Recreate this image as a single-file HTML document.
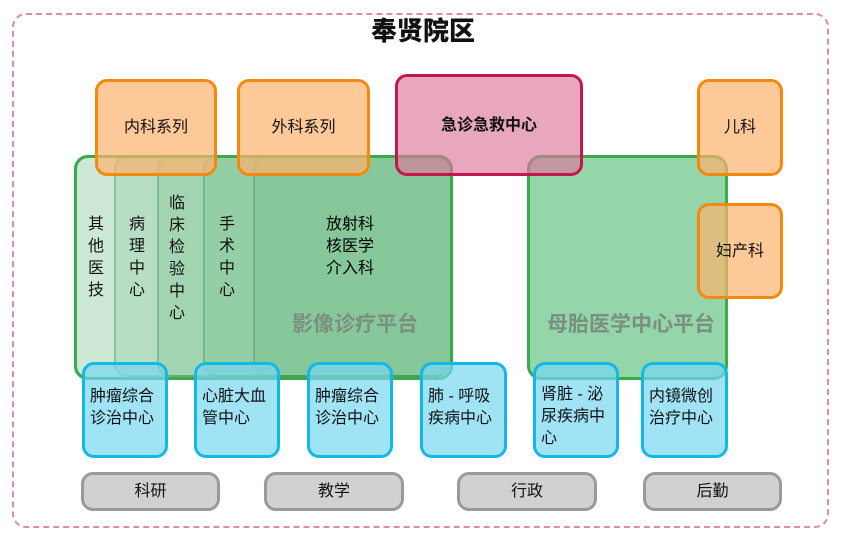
<!DOCTYPE html>
<html><head><meta charset="utf-8"><style>
body{margin:0;width:846px;height:543px;background:#fff;position:relative;overflow:hidden;font-family:"Liberation Sans","Noto Sans CJK SC",sans-serif;}
.b{position:absolute;box-sizing:border-box;border-radius:12px;display:flex;align-items:center;justify-content:center;text-align:center;color:#111;font-size:16px;line-height:21px;}
.o{border:3px solid #f5890f;background:rgba(253,178,110,0.7);}
.c{border:3px solid #14b8e6;background:rgba(120,215,240,0.7);align-items:flex-start;justify-content:flex-start;text-align:left;padding:21px 0 0 5px;font-size:16px;line-height:22px;}
.g{border:3px solid #9a9a9a;background:#d2d0d2;border-radius:12px;}
.gl{border:2px solid rgba(60,150,80,0.35);background:rgba(70,170,100,0.17);border-radius:14px;border-right:none;}
.v{position:absolute;font-size:16px;line-height:22px;width:17px;color:#111;}
</style></head><body>
<div style="position:absolute;left:12px;top:13px;width:817px;height:515px;box-sizing:border-box;border:2px dashed #e08aaa;border-radius:14px;"></div>
<div style="position:absolute;left:0;width:846px;top:13px;text-align:center;font-size:26px;font-weight:900;line-height:36px;color:#111;">奉贤院区</div>

<div class="b" style="left:74px;top:155px;width:379px;height:225px;border:3px solid #3aaa4a;background:#cde9d6;border-radius:14px;"></div>
<div class="b gl" style="left:114px;top:155px;width:336px;height:222px;"></div>
<div class="b gl" style="left:157px;top:155px;width:293px;height:222px;"></div>
<div class="b gl" style="left:203px;top:155px;width:247px;height:222px;"></div>
<div class="b gl" style="left:253px;top:155px;width:197px;height:222px;"></div>
<div class="b" style="left:74px;top:155px;width:379px;height:225px;border:3px solid #3aaa4a;background:transparent;border-radius:14px;"></div>
<div class="v" style="left:88px;top:214px;">其他医技</div>
<div class="v" style="left:129px;top:214px;">病理中心</div>
<div class="v" style="left:169px;top:193px;">临床检验中心</div>
<div class="v" style="left:219px;top:214px;">手术中心</div>
<div style="position:absolute;left:300px;top:214px;width:100px;text-align:center;font-size:16px;line-height:22px;">放射科<br>核医学<br>介入科</div>
<div style="position:absolute;left:270px;top:308px;width:170px;text-align:center;font-size:21px;font-weight:bold;color:#7b8f80;">影像诊疗平台</div>

<div class="b" style="left:527px;top:155px;width:201px;height:225px;border:3px solid #3aaa4a;background:#95d5aa;border-radius:14px;"></div>
<div style="position:absolute;left:527px;top:308px;width:208px;text-align:center;font-size:21px;font-weight:bold;color:#7b8f80;">母胎医学中心平台</div>

<div class="b o" style="left:95px;top:79px;width:122px;height:97px;">内科系列</div>
<div class="b o" style="left:237px;top:79px;width:133px;height:97px;">外科系列</div>
<div class="b" style="left:395px;top:74px;width:188px;height:102px;border:3px solid #c4174f;background:rgba(220,120,155,0.65);font-weight:bold;">急诊急救中心</div>
<div class="b o" style="left:697px;top:79px;width:86px;height:97px;">儿科</div>
<div class="b o" style="left:697px;top:203px;width:86px;height:96px;">妇产科</div>

<div class="b c" style="left:82px;top:362px;width:86px;height:96px;">肿瘤综合<br>诊治中心</div>
<div class="b c" style="left:194px;top:362px;width:86px;height:96px;">心脏大血<br>管中心</div>
<div class="b c" style="left:307px;top:362px;width:86px;height:96px;">肿瘤综合<br>诊治中心</div>
<div class="b c" style="left:420px;top:362px;width:87px;height:96px;">肺 - 呼吸<br>疾病中心</div>
<div class="b c" style="left:533px;top:362px;width:86px;height:96px;padding-top:19px;">肾脏 - 泌<br>尿疾病中<br>心</div>
<div class="b c" style="left:641px;top:362px;width:87px;height:96px;">内镜微创<br>治疗中心</div>

<div class="b g" style="left:81px;top:472px;width:139px;height:39px;">科研</div>
<div class="b g" style="left:264px;top:472px;width:140px;height:39px;">教学</div>
<div class="b g" style="left:457px;top:472px;width:140px;height:39px;">行政</div>
<div class="b g" style="left:643px;top:472px;width:139px;height:39px;">后勤</div>
</body></html>
